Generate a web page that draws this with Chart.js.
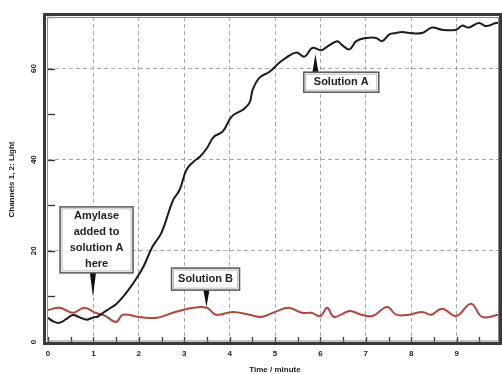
<!DOCTYPE html>
<html>
<head>
<meta charset="utf-8">
<script src="https://cdn.jsdelivr.net/npm/chart.js@4"></script>
<style>
  html, body { margin: 0; padding: 0; background: #fff; }
  #wrap { width: 502px; height: 374px; }
</style>
</head>
<body>
<div id="wrap"><canvas id="myChart"></canvas></div>
<script>
// Time (minutes) and light readings for the two channels
var timeA = [0.0, 0.1, 0.25, 0.4, 0.55, 0.7, 0.85, 1.0, 1.1, 1.2, 1.35, 1.5, 1.65, 1.8, 1.9, 2.1, 2.3, 2.5, 2.75, 2.9,
    3.05, 3.2, 3.35, 3.5, 3.65, 3.85, 4.05, 4.3, 4.44, 4.51, 4.66, 4.88, 5.1, 5.25, 5.47, 5.65, 5.82, 6.02, 6.15, 6.37,
    6.46, 6.64, 6.79, 7.01, 7.23, 7.36, 7.52, 7.67, 7.8, 7.96, 8.24, 8.46, 8.68, 8.99, 9.12, 9.27, 9.49, 9.65, 9.87, 10.0];
var solutionA = [5.3, 4.6, 4.2, 5.0, 5.9, 5.4, 4.9, 5.4, 5.6, 6.3, 7.3, 8.3, 9.9, 11.8, 13.2, 16.5, 20.9, 24.0, 31.0, 33.4,
    37.8, 39.5, 40.7, 42.5, 45.0, 46.2, 49.5, 51.0, 52.5, 55.4, 58.0, 59.3, 61.3, 62.4, 63.5, 62.6, 64.5, 64.0, 64.8, 66.0,
    65.3, 64.2, 66.0, 66.7, 66.7, 66.0, 67.5, 67.8, 68.0, 67.8, 67.8, 69.0, 68.5, 68.5, 69.4, 69.0, 70.0, 69.3, 70.0, 70.0];

var timeB = [0.0, 0.26, 0.55, 0.8, 1.05, 1.25, 1.5, 1.65, 2.0, 2.4, 2.75, 3.2, 3.5, 3.7, 4.07, 4.44, 4.7, 5.0, 5.3, 5.6,
    5.8, 6.0, 6.15, 6.3, 6.64, 6.9, 7.15, 7.47, 7.67, 7.95, 8.24, 8.44, 8.68, 8.99, 9.32, 9.56, 9.93, 10.0];
var solutionB = [7.0, 7.5, 6.4, 7.5, 6.4, 5.8, 4.4, 6.0, 5.5, 5.3, 6.4, 7.5, 7.5, 6.0, 6.6, 6.0, 5.5, 6.6, 7.5, 6.4,
    6.4, 5.7, 7.5, 5.5, 6.8, 6.0, 5.7, 7.7, 6.0, 6.0, 6.6, 6.0, 7.3, 5.7, 8.4, 5.5, 6.0, 6.0];

var xTickLabels = ['0', '1', '2', '3', '4', '5', '6', '7', '8', '9'];
var yTickLabels = ['0', '20', '40', '60'];

// Callout boxes: text, box centre and arrow tip in data units
var callouts = [
    { lines: ['Solution A'], box: [6.46, 57.0], tip: [5.89, 63.2], w: 75, h: 20 },
    { lines: ['Amylase', 'added to', 'solution A', 'here'], box: [1.07, 22.4], tip: [0.99, 9.9], w: 73, h: 66 },
    { lines: ['Solution B'], box: [3.47, 13.8], tip: [3.49, 7.7], w: 68, h: 22 }
];

function pts(xs, ys) {
    return xs.map(function (x, i) { return { x: x, y: ys[i] }; });
}

var FONT = '"Liberation Sans", Arial, sans-serif';

// frame, inner tick marks and callouts
var decor = {
    id: 'decor',
    beforeDatasetsDraw: function (chart) {
        var c = chart.ctx, a = chart.chartArea;
        var xs = chart.scales.x, ys = chart.scales.y;
        c.save();
        c.strokeStyle = '#333';
        c.lineWidth = 1.3;
        xs.ticks.forEach(function (t) {
            var px = Math.round(xs.getPixelForValue(t.value)) + 0.5;
            c.beginPath(); c.moveTo(px, a.bottom); c.lineTo(px, a.bottom - 5); c.stroke();
        });
        ys.ticks.forEach(function (t) {
            var py = Math.round(ys.getPixelForValue(t.value)) + 0.5;
            c.beginPath(); c.moveTo(a.left, py); c.lineTo(a.left + 7, py); c.stroke();
        });
        c.restore();
    },
    afterDraw: function (chart) {
        var c = chart.ctx, a = chart.chartArea;
        var xs = chart.scales.x, ys = chart.scales.y;
        c.save();
        // double frame
        c.strokeStyle = '#3a3a3a';
        c.lineWidth = 3;
        c.strokeRect(a.left - 3.5, a.top - 2.5, a.right - a.left + 2, a.bottom - a.top + 4);
        c.strokeStyle = '#8a8a8a';
        c.lineWidth = 1;
        c.strokeRect(a.left - 0.5, a.top + 0.5, a.right - a.left - 3, a.bottom - a.top - 1.5);

        callouts.forEach(function (o) {
            var cx = xs.getPixelForValue(o.box[0]), cy = ys.getPixelForValue(o.box[1]);
            var tx = xs.getPixelForValue(o.tip[0]), ty = ys.getPixelForValue(o.tip[1]);
            var bx = cx - o.w / 2, by = cy - o.h / 2;
            // arrow
            var baseY = ty < by ? by : by + o.h;
            c.fillStyle = '#111';
            c.beginPath();
            c.moveTo(tx - 3, baseY);
            c.lineTo(tx + 3, baseY);
            c.lineTo(tx, ty);
            c.closePath();
            c.fill();
            // box
            c.fillStyle = '#fff';
            c.fillRect(bx, by, o.w, o.h);
            c.strokeStyle = '#555';
            c.lineWidth = 1.5;
            c.strokeRect(bx, by, o.w, o.h);
            c.strokeStyle = '#bbb';
            c.lineWidth = 1;
            c.strokeRect(bx + 2, by + 2, o.w - 4, o.h - 4);
            // text
            c.fillStyle = '#222';
            c.font = 'bold 11px ' + FONT;
            c.textAlign = 'center';
            c.textBaseline = 'middle';
            var lh = 16;
            var y0 = cy - (o.lines.length - 1) * lh / 2;
            o.lines.forEach(function (s, i) { c.fillText(s, cx, y0 + i * lh); });
        });
        c.restore();
    }
};

document.addEventListener('DOMContentLoaded', function () {
    var ctx = document.getElementById('myChart').getContext('2d');

    var myChart = new Chart(ctx, {
        type: 'line',
        data: {
            datasets: [{
                label: 'Solution A',
                data: pts(timeA, solutionA),
                borderColor: '#1c1c1c',
                borderWidth: 2,
                pointRadius: 0,
                tension: 0.4
            }, {
                label: 'Solution B',
                data: pts(timeB, solutionB),
                borderColor: '#b3443a',
                borderWidth: 2,
                pointRadius: 0,
                tension: 0.4
            }]
        },
        options: {
            responsive: true,
            maintainAspectRatio: false,
            animation: false,
            layout: { padding: { top: 17, right: 0, bottom: 0, left: 0 } },
            plugins: { legend: { display: false }, tooltip: { enabled: false } },
            scales: {
                x: {
                    type: 'linear',
                    min: 0,
                    max: 10,
                    afterFit: function (s) { s.height = 32; s.paddingLeft = 0; s.paddingRight = 0; },
                    border: { display: false, dash: [4, 3] },
                    grid: {
                        drawTicks: false,
                        lineWidth: 1,
                        color: function (c) {
                            var v = c.tick && c.tick.value;
                            return (v > 0 && v < 10 && Number.isInteger(v)) ? '#a8a8a8' : 'rgba(0,0,0,0)';
                        }
                    },
                    ticks: {
                        stepSize: 0.5,
                        autoSkip: false,
                        maxRotation: 0,
                        padding: 7,
                        color: '#222',
                        font: { family: FONT, size: 8, weight: 'bold' },
                        callback: function (v) {
                            return Number.isInteger(v) && v < xTickLabels.length ? xTickLabels[v] : '';
                        }
                    },
                    title: {
                        display: true,
                        text: 'Time / minute',
                        color: '#222',
                        font: { family: FONT, size: 8, weight: 'bold', lineHeight: 1 },
                        padding: { top: 0, bottom: 0 }
                    }
                },
                y: {
                    min: 0,
                    max: 71.3,
                    afterFit: function (s) { s.width = 48; },
                    border: { display: false, dash: [4, 3] },
                    grid: {
                        drawTicks: false,
                        lineWidth: 1,
                        color: function (c) {
                            var v = c.tick && c.tick.value;
                            return (v > 0 && v % 20 === 0) ? '#a8a8a8' : 'rgba(0,0,0,0)';
                        }
                    },
                    ticks: {
                        stepSize: 10,
                        autoSkip: false,
                        minRotation: 90,
                        maxRotation: 90,
                        crossAlign: 'center',
                        padding: 10,
                        color: '#222',
                        font: { family: FONT, size: 8, weight: 'bold' },
                        callback: function (v) {
                            return v % 20 === 0 ? yTickLabels[v / 20] : '';
                        }
                    },
                    title: {
                        display: true,
                        text: 'Channels 1, 2: Light',
                        color: '#222',
                        font: { family: FONT, size: 8, weight: 'bold' },
                        padding: { top: 7, bottom: 0 }
                    }
                }
            }
        },
        plugins: [decor]
    });
});
</script>
</body>
</html>
